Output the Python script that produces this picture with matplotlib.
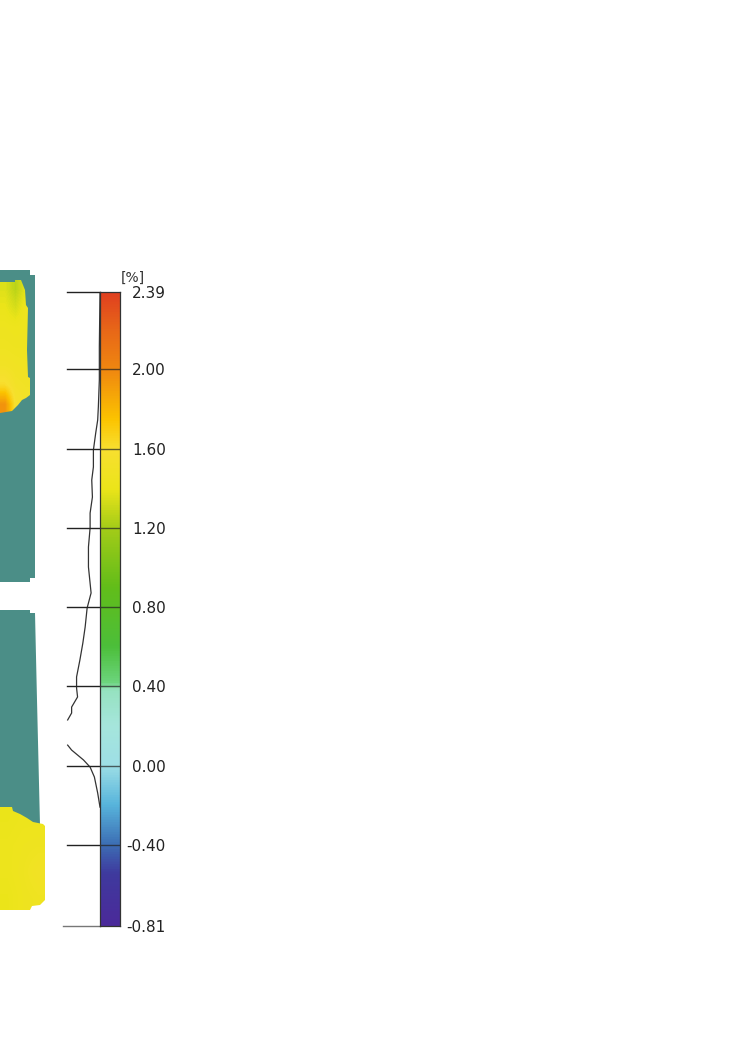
import numpy as np
import matplotlib.pyplot as plt
from matplotlib.colors import LinearSegmentedColormap
from matplotlib.patches import Polygon

plt.rcParams['image.composite_image'] = False

W, H = 737, 1044

# colour scale [%]
vmin, vmax = -0.81, 2.39
cbar_ticks = [2.39, 2.00, 1.60, 1.20, 0.80, 0.40, 0.00, -0.40, -0.81]
cmap_stops = [-0.81, -0.55, -0.40, -0.20, 0.00, 0.20, 0.38, 0.42, 0.60, 0.90,
              1.20, 1.40, 1.60, 1.75, 2.00, 2.20, 2.39]
cmap_colors = ['#4b2a9a', '#3f3a9e', '#3d6fb5', '#58b5dc', '#9edfe6', '#a6e6dc',
               '#96e2c0', '#6cd47c', '#4cbf3a', '#62bd1a', '#a4cc18', '#ece51a',
               '#f8e030', '#fcc400', '#f08810', '#e86818', '#e04020']

# distribution curve drawn next to the colour bar (NaN = clipped part)
hist_vals = [2.385, 2.112, 1.946, 1.810, 1.744, 1.678, 1.592, 1.507, 1.441, 1.355,
             1.274, 1.199, 1.103, 1.002, 0.871, 0.795, 0.699, 0.618, 0.532, 0.447,
             0.391, 0.346, 0.295, 0.265, 0.230, np.nan, 0.103, 0.078, 0.028,
             -0.008, -0.058, -0.139, -0.210]
hist_freq = [0.00, 0.02, 0.02, 0.05, 0.07, 0.13, 0.20, 0.20, 0.25, 0.23,
             0.30, 0.30, 0.35, 0.35, 0.27, 0.39, 0.45, 0.52, 0.61, 0.71,
             0.71, 0.68, 0.86, 0.86, 0.98, np.nan, 0.98, 0.86, 0.50,
             0.30, 0.17, 0.07, 0.00]

# map fragment (local map units), teal = specimen without values
top_panel = [(0, 270), (30, 270), (30, 275), (35, 275), (35, 578), (30, 578),
             (30, 582), (0, 582)]
bottom_panel = [(0, 610), (30, 610), (30, 613), (35, 613), (37, 700), (40, 825), (0, 825)]
top_patch = [(0, 282), (15, 282), (15, 280), (21, 280), (23, 285), (25, 290), (26, 305),
             (28, 308), (27, 350), (28, 377), (30, 378), (30, 395), (26, 398), (22, 400),
             (18, 405), (15, 408), (12, 411), (0, 413)]
bottom_patch = [(0, 807), (12, 807), (13, 811), (20, 814), (27, 818), (33, 822), (43, 824),
                (45, 826), (45, 900), (40, 905), (32, 906), (30, 910), (0, 910)]
top_vals = [[1.36, 1.26, 1.38],
            [1.40, 1.34, 1.43],
            [1.44, 1.43, 1.44],
            [1.46, 1.45, 1.45],
            [1.50, 1.48, 1.47],
            [1.62, 1.52, 1.50],
            [1.95, 1.58, 1.52]]
bottom_vals = [[1.40, 1.42, 1.42],
               [1.42, 1.44, 1.45],
               [1.42, 1.45, 1.50],
               [1.40, 1.44, 1.46]]
teal = '#4b8e87'

cmap = LinearSegmentedColormap.from_list(
    'strain', [((v - vmin) / (vmax - vmin), c) for v, c in zip(cmap_stops, cmap_colors)])

fig = plt.figure(figsize=(W / 100, H / 100), dpi=100)


def px_axes(x0, y0, x1, y1):
    return fig.add_axes([x0 / W, 1 - y1 / H, (x1 - x0) / W, (y1 - y0) / H])


# map
mx = px_axes(0, 260, 60, 930)
for outline in (top_panel, bottom_panel):
    mx.add_patch(Polygon(outline, closed=True, facecolor=teal, edgecolor='none', zorder=1))
for outline, vals in ((top_patch, top_vals), (bottom_patch, bottom_vals)):
    xs = [p[0] for p in outline]
    ys = [p[1] for p in outline]
    clip = Polygon(outline, closed=True, facecolor='none', edgecolor='none')
    mx.add_patch(clip)
    im = mx.imshow(vals, cmap=cmap, vmin=vmin, vmax=vmax, interpolation='bilinear',
                   extent=(min(xs), max(xs) + 1, max(ys) + 1, min(ys) - 1),
                   origin='upper', aspect='auto', zorder=2)
    im.set_clip_path(clip)
mx.set_xlim(0, 60)
mx.set_ylim(930, 260)
mx.axis('off')

# distribution curve and tick lines
hx = px_axes(60, 292, 100, 926)
hx.set_xlim(40 / 33, 0)
hx.set_ylim(vmin, vmax)
hx.axis('off')
hx.plot(hist_freq, hist_vals, color='#333333', lw=0.9)
for t in cbar_ticks:
    if t == vmin:
        hx.plot([37 / 33, 0], [t, t], color='#777777', lw=1.0, clip_on=False)
    else:
        hx.plot([1.0, 0], [t, t], color='#222222', lw=1.0, clip_on=False)

# colour bar
cx = px_axes(100, 292, 120, 926)
grad = np.linspace(vmin, vmax, 512).reshape(-1, 1)
cx.imshow(grad, cmap=cmap, vmin=vmin, vmax=vmax, origin='lower', aspect='auto',
          extent=(0, 1, vmin, vmax))
for t in cbar_ticks[1:-1]:
    cx.axhline(t, color='#222222', lw=1.0, alpha=0.7)
cx.set_xlim(0, 1)
cx.set_ylim(vmin, vmax)
cx.set_xticks([])
cx.yaxis.tick_right()
cx.set_yticks(cbar_ticks)
cx.set_yticklabels(['%.2f' % t for t in cbar_ticks])
cx.tick_params(axis='y', length=0, pad=33, labelsize=11, labelcolor='#222222')
for lab in cx.get_yticklabels():
    lab.set_horizontalalignment('right')
for s in cx.spines.values():
    s.set_color('#333333')
    s.set_linewidth(0.9)
fig.text(133 / W, 1 - 278 / H, '[%]', ha='center', va='center', fontsize=10, color='#333333')

fig.savefig('out.png', dpi=100)
